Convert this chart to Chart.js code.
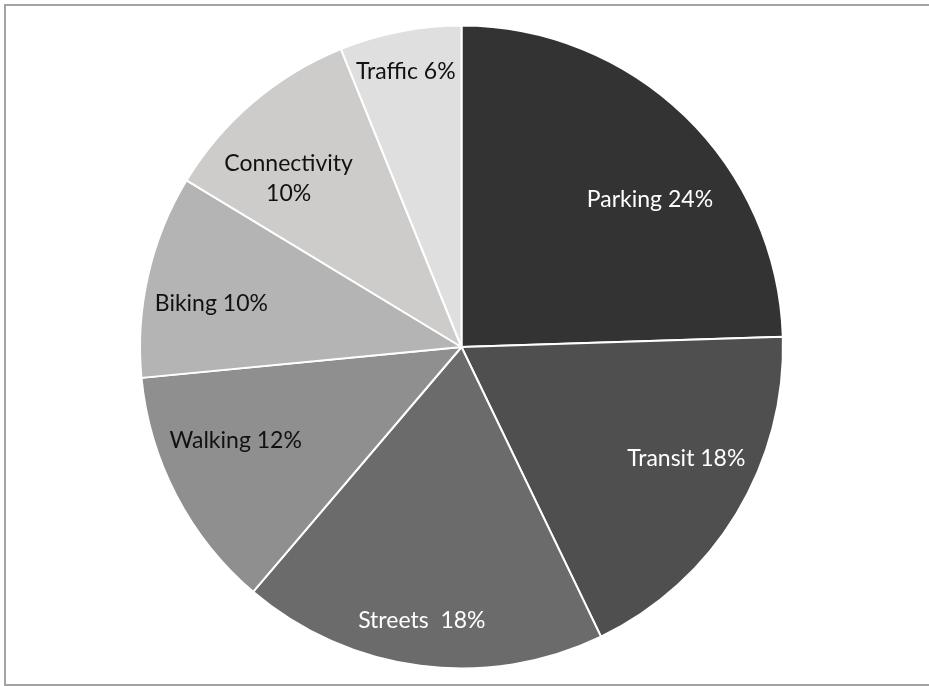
<!DOCTYPE html>
<html>
<head>
<meta charset="utf-8">
<script src="https://cdn.jsdelivr.net/npm/chart.js@4.4.1/dist/chart.umd.min.js"></script>
<style>
  html, body { margin: 0; padding: 0; background: #fff; overflow: hidden; }
  #frame {
    position: absolute; left: 4px; top: 4px;
    width: 1000px; height: 682px;
    box-sizing: border-box;
    border: 2px solid #a3a3a3;
  }
  #wrap { position: absolute; left: 0; top: 0; width: 929px; height: 686px; }
</style>
</head>
<body>
<div id="frame"></div>
<div id="wrap"><canvas id="pie"></canvas></div>
<script>
// topics and their share of comments
const topics = ["Parking", "Transit", "Streets", "Walking", "Biking", "Connectivity", "Traffic"];
const shares = [24, 18, 18, 12, 10, 10, 6];
const labelTexts = [
  ["Parking 24%"],
  ["Transit 18%"],
  ["Streets  18%"],
  ["Walking 12%"],
  ["Biking 10%"],
  ["Connectivity", "10%"],
  ["Traffic 6%"],
];
const sliceColors = ["#333333", "#4f4f4f", "#6b6b6b", "#8f8f8f", "#b3b4b3", "#cdcccb", "#dfdfdf"];
const textColors = ["#ffffff", "#ffffff", "#ffffff", "#111111", "#111111", "#111111", "#111111"];

// label placement: angle shift from slice middle (deg) and fraction of radius
const labelPlace = [[7.8, 0.745], [-4.9, 0.78], [0.9, 0.86], [5.1, 0.76], [-2.9, 0.79], [-5.4, 0.75], [-0.4, 0.875]];

const sliceLabels = {
  id: "sliceLabels",
  afterDatasetsDraw(chart) {
    const ctx = chart.ctx;
    const arcs = chart.getDatasetMeta(0).data;
    ctx.save();
    ctx.font = "23px Lato, 'Open Sans', sans-serif";
    ctx.textAlign = "center";
    ctx.textBaseline = "middle";
    arcs.forEach((arc, i) => {
      const p = arc.getProps(["x", "y", "startAngle", "endAngle", "outerRadius"], true);
      const mid = (p.startAngle + p.endAngle) / 2 + labelPlace[i][0] * Math.PI / 180;
      const r = p.outerRadius * labelPlace[i][1];
      const x = p.x + Math.cos(mid) * r;
      const y = p.y + Math.sin(mid) * r;
      const lines = labelTexts[i];
      const lh = 30;
      ctx.fillStyle = textColors[i];
      lines.forEach((t, k) => {
        ctx.fillText(t, x, y + (k - (lines.length - 1) / 2) * lh);
      });
    });
    ctx.restore();
  }
};

new Chart(document.getElementById("pie"), {
  type: "pie",
  data: {
    labels: topics,
    datasets: [{
      data: shares,
      backgroundColor: sliceColors,
      borderColor: "#ffffff",
      borderWidth: 2,
    }],
  },
  options: {
    responsive: true,
    maintainAspectRatio: false,
    animation: false,
    layout: { padding: { left: 139, right: 145, top: 24, bottom: 16 } },
    plugins: {
      legend: { display: false },
      tooltip: { enabled: false },
    },
  },
  plugins: [sliceLabels],
});
</script>
</body>
</html>
